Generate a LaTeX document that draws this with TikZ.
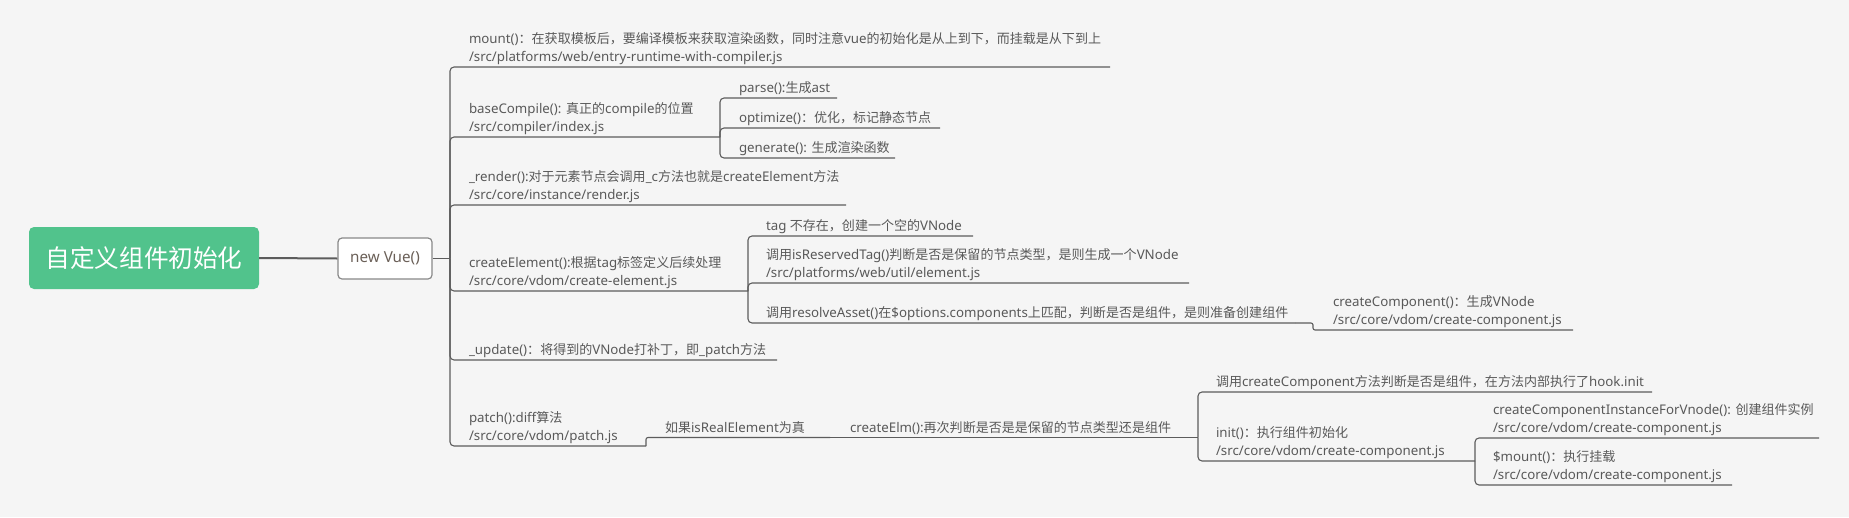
\documentclass[tikz,border=0pt]{standalone}
\usepackage{fontspec}
\setmainfont{Noto Sans}[Scale=0.95]
\newfontfamily\cjkf{Noto Sans CJK SC}[Scale=0.93]
\newXeTeXintercharclass\mycjkclass
\newcount\mycnt
\def\setcjkrange#1#2{\mycnt=#1\relax\loop\XeTeXcharclass\mycnt=\mycjkclass\advance\mycnt by 1\relax\ifnum\mycnt<#2\repeat}
\setcjkrange{"3000}{"3040}
\setcjkrange{"4E00}{"A000}
\setcjkrange{"FF00}{"FFF0}
\XeTeXinterchartoks 0 \mycjkclass = {\cjkf}
\XeTeXinterchartoks 4095 \mycjkclass = {\cjkf}
\XeTeXinterchartoks \mycjkclass 0 = {\rmfamily}
\XeTeXinterchartoks \mycjkclass 4095 = {\rmfamily}
\XeTeXinterchartokenstate=1
\definecolor{bgc}{HTML}{F5F5F5}
\definecolor{rootg}{HTML}{51C38C}
\definecolor{linec}{HTML}{5C5C5C}
\definecolor{txtc}{HTML}{595959}
\definecolor{vuetxt}{HTML}{6B6058}
\definecolor{vuebd}{HTML}{888888}
\newcommand\mmtext[2]{\makebox[#1pt][l]{\begin{tabular}[b]{@{}l@{}}#2\end{tabular}}}
\tikzset{
  conn/.style={draw=linec, line width=1.1pt, rounded corners=4pt},
  lbl/.style={inner sep=0pt, outer sep=0pt, text=txtc, font=\fontsize{14}{18}\selectfont, anchor=south west},
  rootbox/.style={fill=rootg, rounded corners=5pt, minimum width=230pt, minimum height=62pt, inner sep=0pt, text=white, font=\fontsize{26.5}{30}\selectfont},
  vuebox/.style={draw=vuebd, line width=1.2pt, fill=white, rounded corners=4pt, minimum width=94pt, minimum height=41pt, inner sep=0pt, text=vuetxt, font=\fontsize{16}{20}\selectfont},
}
\begin{document}
\begin{tikzpicture}[x=1pt,y=-1pt]
\useasboundingbox (0,0) rectangle (1849,517);
\fill[bgc] (0,0) rectangle (1849,517);

\node[rootbox] (root) at (144,258) {自定义组件初始化};
\node[vuebox] (vue) at (385,258.5) {new Vue()};
\coordinate (J0) at (450,258.5);
\draw[conn, line width=2pt] (root.east) -- (vue.west);
\draw[conn] (vue.east) -- (J0);

% level 1
\node[lbl] (mount) at (469,67) {\mmtext{641}{mount()：在获取模板后，要编译模板来获取渲染函数，同时注意vue的初始化是从上到下，而挂载是从下到上\\/src/platforms/web/entry-runtime-with-compiler.js}};
\node[lbl] (basec) at (469,137) {\mmtext{251}{baseCompile(): 真正的compile的位置\\/src/compiler/index.js}};
\node[lbl] (render) at (469,205) {\mmtext{377}{\_render():对于元素节点会调用\_c方法也就是createElement方法\\/src/core/instance/render.js}};
\node[lbl] (celem) at (469,291) {\mmtext{279}{createElement():根据tag标签定义后续处理\\/src/core/vdom/create-element.js}};
\node[lbl] (update) at (469,360) {\mmtext{308}{\_update()：将得到的VNode打补丁，即\_patch方法}};
\node[lbl] (patch) at (469,446) {\mmtext{177}{patch():diff算法\\/src/core/vdom/patch.js}};
\foreach \n in {mount,basec,render,celem,update,patch}
  \draw[conn] (J0) |- (\n.south east);

% baseCompile children
\node[lbl] (parse) at (739,98) {\mmtext{98}{parse():生成ast}};
\node[lbl] (optim) at (739,128) {\mmtext{201}{optimize()：优化，标记静态节点}};
\node[lbl] (gener) at (739,158) {\mmtext{156}{generate(): 生成渲染函数}};
\foreach \n in {parse,optim,gener}
  \draw[conn] (basec.south east) |- (\n.south east);

% createElement children
\node[lbl] (tag) at (766,236) {\mmtext{207}{tag 不存在，创建一个空的VNode}};
\node[lbl] (isres) at (766,283) {\mmtext{423}{调用isReservedTag()判断是否是保留的节点类型，是则生成一个VNode\\/src/platforms/web/util/element.js}};
\node[lbl] (resolve) at (766,323) {\mmtext{529}{调用resolveAsset()在\$options.components上匹配，判断是否是组件，是则准备创建组件}};
\foreach \n in {tag,isres,resolve}
  \draw[conn] (celem.south east) |- (\n.south east);

\node[lbl] (ccomp) at (1333,330) {\mmtext{240}{createComponent()：生成VNode\\/src/core/vdom/create-component.js}};
\coordinate (k1) at (1313,323);
\draw[conn, rounded corners=2pt] (resolve.south east) -- (k1) |- (ccomp.south east);

% patch chain
\node[lbl] (ifreal) at (665,437.5) {\mmtext{165}{如果isRealElement为真}};
\node[lbl] (celm) at (850,437.5) {\mmtext{348}{createElm():再次判断是否是是保留的节点类型还是组件}};
\draw[conn, rounded corners=2pt] (patch.south east) |- (ifreal.south east);
\draw[conn] (ifreal.south east) -- (celm.south east);

\node[lbl] (hook) at (1216,392) {\mmtext{436}{调用createComponent方法判断是否是组件，在方法内部执行了hook.init}};
\node[lbl] (init) at (1216,461) {\mmtext{259}{init()：执行组件初始化\\/src/core/vdom/create-component.js}};
\foreach \n in {hook,init}
  \draw[conn] (celm.south east) |- (\n.south east);

\node[lbl] (ccifv) at (1493,438) {\mmtext{326}{createComponentInstanceForVnode(): 创建组件实例\\/src/core/vdom/create-component.js}};
\node[lbl] (smount) at (1493,485) {\mmtext{239}{\$mount()：执行挂载\\/src/core/vdom/create-component.js}};
\foreach \n in {ccifv,smount}
  \draw[conn] (init.south east) |- (\n.south east);
\end{tikzpicture}
\end{document}
